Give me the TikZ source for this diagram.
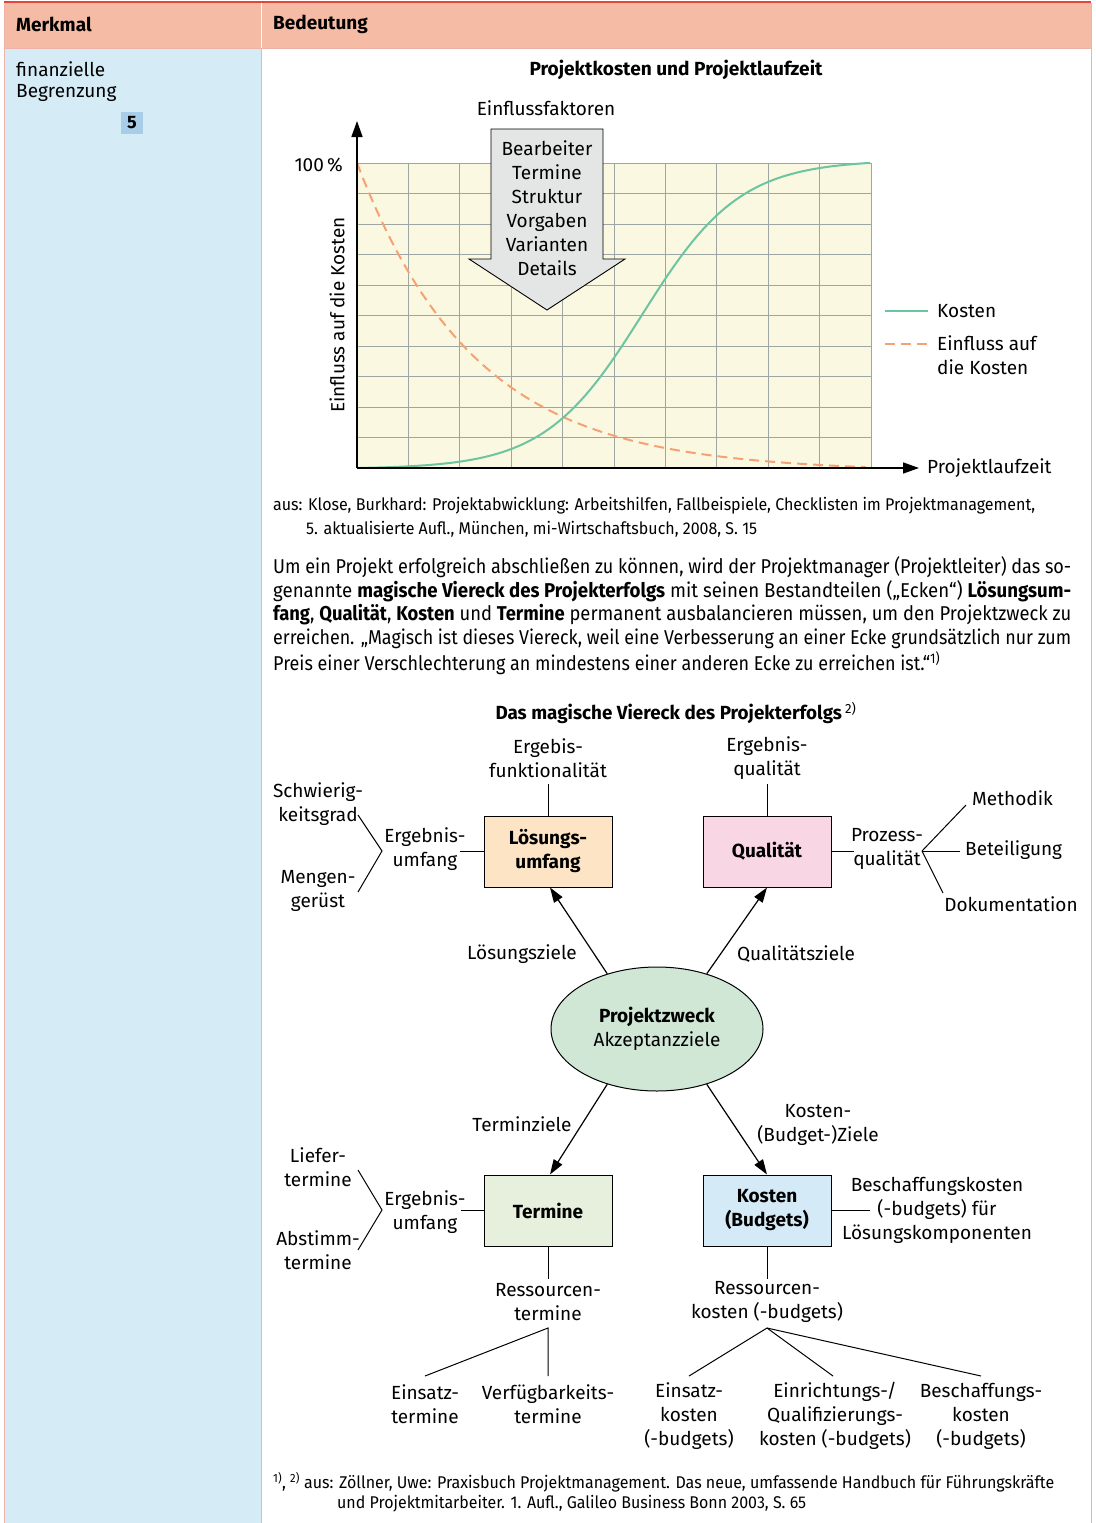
\documentclass[tikz,border=0pt]{standalone}
\usepackage{fontspec}
\setmainfont{Fira Sans}
\usepackage{graphicx}
\usetikzlibrary{arrows.meta,shapes.geometric,calc}
\definecolor{hdr}{HTML}{F6BBA5}
\definecolor{leftcol}{HTML}{D5ECF7}
\definecolor{redline}{HTML}{E2453C}
\definecolor{bord}{HTML}{EDB3A8}
\definecolor{cream}{HTML}{FBF8E2}
\definecolor{gridc}{HTML}{9CA7A3}
\definecolor{kgreen}{HTML}{6CC4A0}
\definecolor{korange}{HTML}{F4A274}
\definecolor{arrowgray}{HTML}{E3E6E4}
\definecolor{badge}{HTML}{A8CDE9}
\definecolor{loes}{HTML}{FDE4C4}
\definecolor{qual}{HTML}{F8D6E3}
\definecolor{term}{HTML}{E7F0DD}
\definecolor{kost}{HTML}{D4EAF6}
\definecolor{zweck}{HTML}{CFE7D4}
\newsavebox\fitbox
\newlength\fitlen
\newcommand\fitto[2]{\sbox\fitbox{#2}\fitlen=\wd\fitbox\pgfmathsetmacro\fitr{#1/\fitlen}\scalebox{\fitr}[1]{\usebox\fitbox}}
\begin{document}
\begin{tikzpicture}[x=1pt,y=-1pt,
  every node/.style={inner sep=0pt, font=\fontsize{19}{24}\selectfont},
  lbl/.style={align=center},
  boxnode/.style={draw, line width=1pt, minimum width=128, minimum height=71, align=center, font=\fontsize{19}{24}\selectfont\bfseries},
  conn/.style={line width=1pt},
  arr/.style={line width=1.2pt, -{Triangle[length=15pt,width=10pt]}},
  axis/.style={line width=1.6pt, -{Triangle[length=16pt,width=11pt]}},
  small/.style={font=\fontsize{17}{23}\selectfont},
  para/.style={font=\fontsize{20}{24}\selectfont}]
\useasboundingbox (0,0) rectangle (1095,1523);
\fill[white] (0,0) rectangle (1095,1523);
% table
\fill[leftcol] (4,48) rectangle (261,1523);
\fill[hdr] (4,3) rectangle (1091,48);
\draw[bord, line width=1pt] (4,48) -- (1091,48);
\draw[bord, line width=1pt] (4.5,3) -- (4.5,1523);
\draw[bord, line width=1pt] (1091,3) -- (1091,1523);
\draw[bord, line width=1pt] (261.5,48) -- (261.5,1523);
\draw[white, line width=1.5pt] (261.5,3) -- (261.5,48);
\draw[redline, line width=1.6pt] (4,2) -- (1091,2);
\node[anchor=west, font=\fontsize{19}{24}\selectfont\bfseries] (hm) at (16,24) {Merkmal};
\node[anchor=west, font=\fontsize{19}{24}\selectfont\bfseries] (hb) at (273,24) {Bedeutung};
\node[anchor=west] (fin) at (16,69) {finanzielle};
\node[anchor=west] (beg) at (16,93) {Begrenzung};
\node[fill=badge, minimum width=22, minimum height=22, font=\fontsize{18}{22}\selectfont\bfseries] (bd) at (132,123) {5};
% chart
\node (t1) at (676,70) {\fontsize{19}{24}\selectfont\bfseries\fitto{293}{Projektkosten und Projektlaufzeit}};
\node (ef) at (546,108) {Einflussfaktoren};
\fill[cream] (357,163) rectangle (871,468);
\foreach \i in {1,...,10} \draw[gridc, line width=0.9pt] (357+51.4*\i,163) -- (357+51.4*\i,468);
\foreach \j in {0,...,9} \draw[gridc, line width=0.9pt] (357,163+30.5*\j) -- (871,163+30.5*\j);
\draw[korange, line width=2pt, dash pattern=on 10pt off 6pt] plot[domain=0:0.99, samples=80] ({357+514*\x},{468-305*(exp(-4.4*\x)-0.01*\x)});
\draw[kgreen, line width=2pt] plot[domain=0:1, samples=100] ({357+514*\x},{468-305*((1/(1+exp(-10.5*(\x-0.555))))-0.0029)/0.9873});
\coordinate (O) at (357,468);
\coordinate (Ytop) at (357,121);
\coordinate (Xend) at (919,468);
\draw[axis] (O) -- (Ytop);
\draw[axis] (O) -- (Xend);
\draw[fill=arrowgray, line width=0.9pt] (491,129) -- (603,129) -- (603,259) -- (625,259) -- (547,310) -- (469,259) -- (491,259) -- cycle;
\node[lbl] (fakt) at (547,208) {Bearbeiter\\Termine\\Struktur\\Vorgaben\\Varianten\\Details};
\node[anchor=east] (hp) at (343,165) {100\,\%};
\node[rotate=90] (ylab) at (337,315) {Einfluss auf die Kosten};
\node[anchor=west] (xlab) at (927,468) {Projektlaufzeit};
\coordinate (lg1a) at (885,311); \coordinate (lg1b) at (928,311);
\coordinate (lg2a) at (885,344); \coordinate (lg2b) at (928,344);
\draw[kgreen, line width=2pt] (lg1a) -- (lg1b);
\draw[korange, line width=2pt, dash pattern=on 10pt off 6pt] (lg2a) -- (lg2b);
\node[anchor=west] (lgk) at (937,311) {Kosten};
\node[anchor=west, align=left] (lge) at (937,355) {Einfluss auf\\die Kosten};
% citation
\node[anchor=west, small] (c1) at (273,506) {\fitto{762}{aus: Klose, Burkhard: Projektabwicklung: Arbeitshilfen, Fallbeispiele, Checklisten im Projektmanagement,}};
\node[anchor=west, small] (c2) at (306,529) {\fitto{451}{5. aktualisierte Aufl., München, mi-Wirtschaftsbuch, 2008, S. 15}};
% paragraph
\node[anchor=west, para] (p1) at (273,567) {\fitto{798}{Um ein Projekt erfolgreich abschließen zu können, wird der Projektmanager (Projektleiter) das so-}};
\node[anchor=west, para] (p2) at (273,591) {\fitto{798}{genannte \textbf{magische Viereck des Projekterfolgs} mit seinen Bestandteilen („Ecken“) \textbf{Lösungsum-}}};
\node[anchor=west, para] (p3) at (273,615) {\fitto{798}{\textbf{fang}, \textbf{Qualität}, \textbf{Kosten} und \textbf{Termine} permanent ausbalancieren müssen, um den Projektzweck zu}};
\node[anchor=west, para] (p4) at (273,639) {\fitto{798}{erreichen. „Magisch ist dieses Viereck, weil eine Verbesserung an einer Ecke grundsätzlich nur zum}};
\node[anchor=west, para] (p5) at (273,663) {\fitto{667}{Preis einer Verschlechterung an mindestens einer anderen Ecke zu erreichen ist.“\textsuperscript{1)}}};
% title 2
\node (t2) at (676,713) {\fontsize{19}{24}\selectfont\fitto{361}{\textbf{Das magische Viereck des Projekterfolgs}\,\textsuperscript{2)}}};
% boxes
\node[boxnode, fill=loes] (LU) at (548,851.5) {Lösungs-\\umfang};
\node[boxnode, fill=qual] (QU) at (767,851.5) {Qualität};
\node[boxnode, fill=term] (TE) at (548,1210.5) {Termine};
\node[boxnode, fill=kost] (KO) at (767,1210.5) {Kosten\\(Budgets)};
\node[ellipse, draw, line width=1pt, fill=zweck, minimum width=212, minimum height=124, align=center] (PZ) at (657,1029) {\textbf{Projektzweck}\\Akzeptanzziele};
\draw[arr] (PZ.132) -- ($(LU.south)+(2,0)$);
\draw[arr] (PZ.48) -- (QU.south);
\draw[arr] (PZ.228) -- ($(TE.north)+(2,0)$);
\draw[arr] (PZ.312) -- (KO.north);
\node (lz) at (522,954) {Lösungsziele};
\node (qz) at (796,954) {Qualitätsziele};
\node (tz) at (522,1124) {Terminziele};
\node[lbl] (kz) at (818,1125) {Kosten-\\(Budget-)Ziele};
% Lösungsumfang
\node[lbl] (efk) at (548,758) {Ergebis-\\funktionalität};
\draw[conn] (LU.north) -- ++(0,-32);
\node[lbl] (eu1) at (425,849) {Ergebnis-\\umfang};
\draw[conn] (LU.west) -- ++(-24,0);
\coordinate (b1) at (382,851); \coordinate (b1a) at (358,815); \coordinate (b1b) at (358,892);
\draw[conn] (b1a) -- (b1) -- (b1b);
\node[lbl] (sg) at (318,804) {Schwierig-\\keitsgrad};
\node[lbl] (mg) at (318,891) {Mengen-\\gerüst};
% Qualität
\node[lbl] (eq) at (767,758) {Ergebnis-\\qualität};
\draw[conn] (QU.north) -- ++(0,-32);
\draw[conn] (QU.east) -- ++(22,0);
\node[lbl] (pq) at (887,849) {Prozess-\\qualität};
\coordinate (f1) at (922,851); \coordinate (f1a) at (966,805); \coordinate (f1b) at (960,851); \coordinate (f1c) at (943,893);
\draw[conn] (f1) -- (f1a); \draw[conn] (f1) -- (f1b); \draw[conn] (f1) -- (f1c);
\node[anchor=west] (me) at (972,798) {Methodik};
\node[anchor=west] (bt) at (965,850) {Beteiligung};
\node (dk) at (1011,904) {Dokumentation};
% Termine
\node[lbl] (eu2) at (425,1212) {Ergebnis-\\umfang};
\draw[conn] (TE.west) -- ++(-23,0);
\coordinate (b2) at (382,1210); \coordinate (b2a) at (358,1170); \coordinate (b2b) at (358,1250);
\draw[conn] (b2a) -- (b2) -- (b2b);
\node[lbl] (lt) at (318,1167) {Liefer-\\termine};
\node[lbl] (at) at (318,1250) {Abstimm-\\termine};
\draw[conn] (TE.south) -- ++(0,32);
\node[lbl] (rt) at (548,1302) {Ressourcen-\\termine};
\coordinate (f2) at (548,1328); \coordinate (f2a) at (425,1376); \coordinate (f2b) at (548,1376);
\draw[conn] (f2a) -- (f2) -- (f2b);
\node[lbl] (et) at (425,1404) {Einsatz-\\termine};
\node[lbl] (vt) at (548,1404) {Verfügbarkeits-\\termine};
% Kosten
\draw[conn] (KO.east) -- ++(38,0);
\node[lbl] (bk) at (937,1210) {Beschaffungskosten\\(-budgets) für\\Lösungskomponenten};
\draw[conn] (KO.south) -- ++(0,32);
\node[lbl] (rk) at (767,1302) {Ressourcen-\\kosten (-budgets)};
\coordinate (f3) at (767,1328); \coordinate (f3a) at (689,1376); \coordinate (f3b) at (833,1376); \coordinate (f3c) at (981,1376);
\draw[conn] (f3) -- (f3a); \draw[conn] (f3) -- (f3b); \draw[conn] (f3) -- (f3c);
\node[lbl] (ek) at (689,1416) {Einsatz-\\kosten\\(-budgets)};
\node[lbl] (qk) at (835,1416) {Einrichtungs-/\\Qualifizierungs-\\kosten (-budgets)};
\node[lbl] (bk2) at (981,1416) {Beschaffungs-\\kosten\\(-budgets)};
% footnote
\node[anchor=west, small] (fn1) at (273,1482) {\fitto{781}{\textsuperscript{1)}, \textsuperscript{2)} aus: Zöllner, Uwe: Praxisbuch Projektmanagement. Das neue, umfassende Handbuch für Führungskräfte}};
\node[anchor=west, small] (fn2) at (337,1504) {\fitto{469}{und Projektmitarbeiter. 1. Aufl., Galileo Business Bonn 2003, S. 65}};
\end{tikzpicture}
\end{document}
